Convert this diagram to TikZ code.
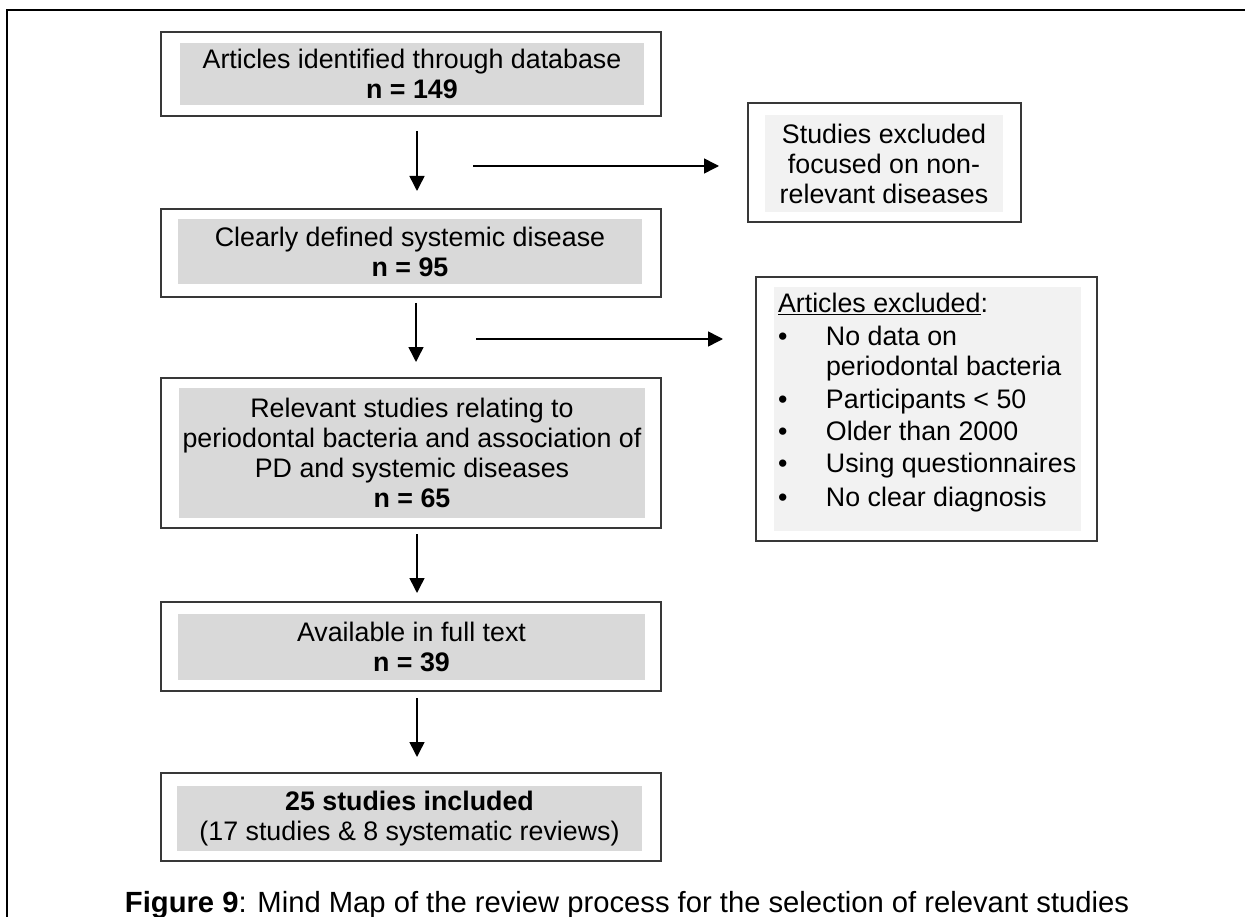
\documentclass[tikz,border=0pt]{standalone}
\usepackage{fontspec}
\setmainfont{Liberation Sans}
\usetikzlibrary{arrows.meta}
\definecolor{boxgray}{HTML}{D9D9D9}
\definecolor{lightfill}{HTML}{F2F2F2}
\definecolor{edgecol}{HTML}{383838}
\newcommand{\boxfont}{\fontsize{26.8}{30}\selectfont}
\tikzset{
  outerbox/.style={draw=edgecol, line width=2pt, inner sep=0pt, outer sep=0pt},
  innerbox/.style={fill=boxgray, inner sep=0pt, outer sep=0pt, align=center, font=\boxfont},
  innerlight/.style={fill=lightfill, inner sep=0pt, outer sep=0pt, align=center, font=\boxfont},
  lineitem/.style={inner sep=0pt, outer sep=0pt, anchor=base west, font=\boxfont},
  arr/.style={line width=1.5pt, -{Triangle[length=15pt,width=15pt]}},
  framepen/.style={line width=2.5pt}
}
\begin{document}
\begin{tikzpicture}[x=1pt,y=-1pt]
\useasboundingbox (0,0) rectangle (1245,917);
% outer frame (partially visible)
\draw[framepen] (7,917) -- (7,10) -- (1245,10);

% main column
\node[outerbox, minimum width=500pt, minimum height=84pt] (b1) at (411,74) {};
\node[innerbox, minimum width=464pt, minimum height=62pt] (g1) at (412,74)
  {Articles identified through database\\\textbf{n = 149}};

\node[outerbox, minimum width=500pt, minimum height=88pt] (b2) at (411,253) {};
\node[innerbox, minimum width=464pt, minimum height=65pt] (g2) at (410,251.5)
  {Clearly defined systemic disease\\\textbf{n = 95}};

\node[outerbox, minimum width=500pt, minimum height=150pt] (b3) at (411,453) {};
\node[innerbox, minimum width=466pt, minimum height=130pt] (g3) at (412,452.5)
  {Relevant studies relating to\\periodontal bacteria and association of\\PD and systemic diseases\\\textbf{n = 65}};

\node[outerbox, minimum width=500pt, minimum height=89pt] (b4) at (411,646.5) {};
\node[innerbox, minimum width=467pt, minimum height=66pt] (g4) at (411.5,647)
  {Available in full text\\\textbf{n = 39}};

\node[outerbox, minimum width=500pt, minimum height=88pt] (b5) at (411,817) {};
\node[innerbox, minimum width=465pt, minimum height=65pt] (g5) at (409.5,818.5)
  {\textbf{25 studies included}\\(17 studies \& 8 systematic reviews)};

% exclusion boxes
\node[outerbox, minimum width=273pt, minimum height=119pt] (e1) at (884.5,162.5) {};
\node[innerlight, minimum width=238pt, minimum height=97pt] (f1) at (884,163.5)
  {Studies excluded\\focused on non-\\relevant diseases};

\node[outerbox, minimum width=341pt, minimum height=264pt] (e2) at (926.5,409) {};
\node[fill=lightfill, inner sep=0pt, outer sep=0pt, minimum width=307pt, minimum height=244pt] (f2) at (927.5,409) {};
\node[lineitem] (t0) at (778,312.5) {\underline{Articles excluded}:};
\node[lineitem] (t1) at (778,345.5) {\makebox[48pt][l]{\textbullet}No data on};
\node[lineitem] (t1b) at (826,375.5) {periodontal bacteria};
\node[lineitem] (t2) at (778,408.5) {\makebox[48pt][l]{\textbullet}Participants < 50};
\node[lineitem] (t3) at (778,440.5) {\makebox[48pt][l]{\textbullet}Older than 2000};
\node[lineitem] (t4) at (778,472.5) {\makebox[48pt][l]{\textbullet}Using questionnaires};
\node[lineitem] (t5) at (778,506.5) {\makebox[48pt][l]{\textbullet}No clear diagnosis};

% vertical arrows
\draw[arr] ([xshift=6pt,yshift=-15pt]b1.south) -- ([xshift=6pt,yshift=18pt]b2.north);
\draw[arr] ([xshift=5pt,yshift=-6pt]b2.south) -- ([xshift=5pt,yshift=16pt]b3.north);
\draw[arr] ([xshift=6pt,yshift=-6pt]b3.south) -- ([xshift=6pt,yshift=9pt]b4.north);
\draw[arr] ([xshift=6pt,yshift=-7pt]b4.south) -- ([xshift=6pt,yshift=16pt]b5.north);

% horizontal arrows
\coordinate (h1s) at (473,166);
\coordinate (h2s) at (476,339);
\draw[arr] (h1s) -- ([xshift=-29pt]h1s -| e1.west);
\draw[arr] (h2s) -- ([xshift=-33pt]h2s -| e2.west);

% caption
\node[inner sep=0pt, anchor=base, font=\fontsize{29.2}{33}\selectfont] (cap) at (627,912)
  {\textbf{Figure 9}: Mind Map of the review process for the selection of relevant studies};
\end{tikzpicture}
\end{document}
